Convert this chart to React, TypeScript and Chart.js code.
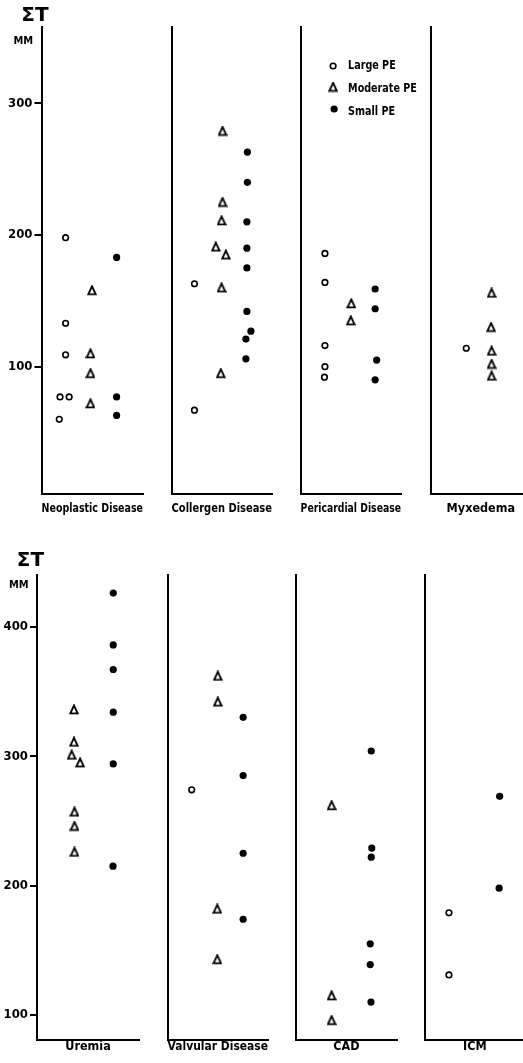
import React, { useEffect, useRef } from 'react';
import { Chart, registerables } from 'chart.js';

Chart.register(...registerables);

// ---------- DATA ----------
const topCategories = ['Neoplastic Disease', 'Collergen Disease', 'Pericardial Disease', 'Myxedema'];
const bottomCategories = ['Uremia', 'Valvular Disease', 'CAD', 'ICM'];
const topTicks = [100, 200, 300];
const bottomTicks = [100, 200, 300, 400];
const topRange = [3.3, 358];
const bottomRange = [80.7, 440];
const legendLabels = ['Large PE', 'Moderate PE', 'Small PE'];
const axisUnitTop = 'ΣT';
const axisUnitBottom = 'MM';

// Neoplastic Disease
const neoLargeY = [198, 133, 109, 77, 77, 60];
const neoLargeX = [0.95, 0.95, 0.95, 0.73, 1.09, 0.7];
const neoModY = [158, 110, 95, 72];
const neoModX = [1.99, 1.93, 1.93, 1.93];
const neoSmallY = [183, 77, 63];
const neoSmallX = [2.96, 2.96, 2.96];

// Collergen Disease
const colLargeY = [163, 67];
const colLargeX = [0.91, 0.91];
const colModY = [279, 225, 211, 191, 185, 160, 95];
const colModX = [2.03, 2.03, 1.99, 1.76, 2.16, 1.99, 1.96];
const colSmallY = [263, 240, 210, 190, 175, 142, 127, 121, 106];
const colSmallX = [3.02, 3.02, 3.0, 3.0, 3.0, 3.0, 3.16, 2.96, 2.96];

// Pericardial Disease
const perLargeY = [186, 164, 116, 100, 92];
const perLargeX = [0.97, 0.97, 0.97, 0.97, 0.95];
const perModY = [148, 135];
const perModX = [2.02, 2.0];
const perSmallY = [159, 144, 105, 90];
const perSmallX = [2.97, 2.97, 3.03, 2.97];

// Myxedema
const myxLargeY = [114];
const myxLargeX = [1.42];
const myxModY = [156, 130, 112, 102, 93];
const myxModX = [2.43, 2.41, 2.43, 2.43, 2.43];
const myxSmallY: number[] = [];
const myxSmallX: number[] = [];

// Uremia
const ureLargeY: number[] = [];
const ureLargeX: number[] = [];
const ureModY = [336, 311, 301, 295, 257, 246, 226];
const ureModX = [1.45, 1.45, 1.36, 1.69, 1.47, 1.47, 1.47];
const ureSmallY = [426, 386, 367, 334, 294, 215];
const ureSmallX = [2.99, 2.99, 2.99, 2.99, 2.99, 2.98];

// Valvular Disease
const valLargeY = [274];
const valLargeX = [0.96];
const valModY = [362, 342, 182, 143];
const valModX = [2.0, 2.0, 1.98, 1.98];
const valSmallY = [330, 285, 225, 174];
const valSmallX = [3.01, 3.01, 3.01, 3.01];

// CAD
const cadLargeY: number[] = [];
const cadLargeX: number[] = [];
const cadModY = [262, 115, 96];
const cadModX = [1.41, 1.41, 1.41];
const cadSmallY = [304, 229, 222, 155, 139, 110];
const cadSmallX = [2.98, 3.0, 2.98, 2.94, 2.94, 2.97];

// ICM
const icmLargeY = [179, 131];
const icmLargeX = [0.97, 0.97];
const icmModY: number[] = [];
const icmModX: number[] = [];
const icmSmallY = [269, 198];
const icmSmallX = [2.99, 2.97];

type Series = { x: number[]; y: number[] };
type PanelData = { name: string; large: Series; mod: Series; small: Series };

const topPanels: PanelData[] = [
  { name: topCategories[0], large: { x: neoLargeX, y: neoLargeY }, mod: { x: neoModX, y: neoModY }, small: { x: neoSmallX, y: neoSmallY } },
  { name: topCategories[1], large: { x: colLargeX, y: colLargeY }, mod: { x: colModX, y: colModY }, small: { x: colSmallX, y: colSmallY } },
  { name: topCategories[2], large: { x: perLargeX, y: perLargeY }, mod: { x: perModX, y: perModY }, small: { x: perSmallX, y: perSmallY } },
  { name: topCategories[3], large: { x: myxLargeX, y: myxLargeY }, mod: { x: myxModX, y: myxModY }, small: { x: myxSmallX, y: myxSmallY } },
];
const bottomPanels: PanelData[] = [
  { name: bottomCategories[0], large: { x: ureLargeX, y: ureLargeY }, mod: { x: ureModX, y: ureModY }, small: { x: ureSmallX, y: ureSmallY } },
  { name: bottomCategories[1], large: { x: valLargeX, y: valLargeY }, mod: { x: valModX, y: valModY }, small: { x: valSmallX, y: valSmallY } },
  { name: bottomCategories[2], large: { x: cadLargeX, y: cadLargeY }, mod: { x: cadModX, y: cadModY }, small: { x: cadSmallX, y: cadSmallY } },
  { name: bottomCategories[3], large: { x: icmLargeX, y: icmLargeY }, mod: { x: icmModX, y: icmModY }, small: { x: icmSmallX, y: icmSmallY } },
];

// ---------- STYLE / LAYOUT ----------
const COND = '"DejaVu Sans Condensed", "Liberation Sans Narrow", "Roboto Condensed", Roboto, sans-serif';
const PLOT_W = 102;
const PAD_R = 26;

let triCache: HTMLCanvasElement | null = null;
function triangleImage(): HTMLCanvasElement {
  if (triCache) return triCache;
  const c = document.createElement('canvas');
  c.width = 10;
  c.height = 11;
  const g = c.getContext('2d')!;
  g.strokeStyle = '#000';
  g.lineWidth = 1.9;
  g.lineJoin = 'miter';
  g.beginPath();
  g.moveTo(5, 1.4);
  g.lineTo(8.7, 9.4);
  g.lineTo(1.3, 9.4);
  g.closePath();
  g.stroke();
  triCache = c;
  return c;
}

const toPts = (s: Series) => s.y.map((v, i) => ({ x: s.x[i], y: v }));

type PanelProps = {
  data: PanelData;
  left: number;
  top: number;
  height: number;
  yW: number;
  padTop: number;
  xH: number;
  range: number[];
  ticks: number[];
  first: boolean;
  legend?: boolean;
  unitOffsets?: number[];
};

function Panel(p: PanelProps) {
  const ref = useRef<HTMLCanvasElement | null>(null);
  const width = p.yW + PLOT_W + PAD_R;
  useEffect(() => {
    const tri = triangleImage();
    const plugins: any[] = [];
    if (p.first && p.unitOffsets) {
      const [dySig, dyMM] = p.unitOffsets;
      plugins.push({
        id: 'units',
        afterDraw(chart: any) {
          const { ctx, chartArea } = chart;
          ctx.save();
          ctx.fillStyle = '#000';
          ctx.textAlign = 'center';
          ctx.textBaseline = 'middle';
          ctx.font = 'bold 20px "DejaVu Sans", sans-serif';
          ctx.fillText(axisUnitTop, chartArea.left - 6.5, chartArea.top + dySig);
          ctx.font = 'bold 11px ' + COND;
          ctx.fillText(axisUnitBottom, chartArea.left - 18.2, chartArea.top + dyMM);
          ctx.restore();
        },
      });
    }
    if (p.legend) {
      plugins.push({
        id: 'peLegend',
        afterDraw(chart: any) {
          const { ctx, chartArea } = chart;
          const mx = chartArea.left + 32.5;
          const tx = chartArea.left + 47.5;
          const rows = [39, 60, 82];
          const trows = [38.5, 61.5, 85];
          ctx.save();
          ctx.strokeStyle = '#000';
          ctx.fillStyle = '#fff';
          ctx.lineWidth = 1.6;
          ctx.beginPath();
          ctx.arc(mx, chartArea.top + rows[0], 2.8, 0, Math.PI * 2);
          ctx.fill();
          ctx.stroke();
          ctx.drawImage(tri, mx - tri.width / 2, chartArea.top + rows[1] - tri.height / 2);
          ctx.fillStyle = '#000';
          ctx.beginPath();
          ctx.arc(mx + 1, chartArea.top + rows[2], 3.6, 0, Math.PI * 2);
          ctx.fill();
          ctx.font = 'bold 13px ' + COND;
          ctx.textAlign = 'left';
          ctx.textBaseline = 'middle';
          legendLabels.forEach((t, i) => {
            ctx.save();
            ctx.translate(tx, chartArea.top + trows[i]);
            ctx.scale(0.82, 1);
            ctx.fillText(t, 0, 0);
            ctx.restore();
          });
          ctx.restore();
        },
      });
    }
    const chart = new Chart(ref.current!, {
      type: 'scatter',
      data: {
        datasets: [
          {
            label: legendLabels[0],
            data: toPts(p.data.large),
            pointStyle: 'circle',
            pointRadius: 2.8,
            pointBorderWidth: 1.6,
            pointBorderColor: '#000',
            pointBackgroundColor: '#fff',
            showLine: false,
          },
          {
            label: legendLabels[1],
            data: toPts(p.data.mod),
            pointStyle: tri as any,
            pointRadius: 5,
            pointBorderWidth: 0,
            pointBorderColor: '#000',
            pointBackgroundColor: '#000',
            showLine: false,
          },
          {
            label: legendLabels[2],
            data: toPts(p.data.small),
            pointStyle: 'circle',
            pointRadius: 3.6,
            pointBorderWidth: 0,
            pointBorderColor: '#000',
            pointBackgroundColor: '#000',
            showLine: false,
          },
        ],
      },
      options: {
        responsive: false,
        animation: false,
        events: [],
        layout: { padding: { top: p.padTop, right: PAD_R, left: 0, bottom: 0 } },
        plugins: { legend: { display: false }, tooltip: { enabled: false }, title: { display: false } },
        scales: {
          x: {
            type: 'linear',
            min: 0,
            max: 4,
            afterFit: (s: any) => {
              s.height = p.xH;
            },
            ticks: { display: false },
            grid: { display: false },
            border: { display: true, color: '#000', width: 2 },
            title: {
              display: true,
              text: p.data.name,
              color: '#000',
              font: { family: COND, size: 12.5, weight: 'bold' },
              padding: { top: 0, bottom: 9 },
            },
          },
          y: {
            type: 'linear',
            min: p.range[0],
            max: p.range[1],
            afterBuildTicks: (s: any) => {
              s.ticks = p.ticks.map((v) => ({ value: v }));
            },
            afterFit: (s: any) => {
              s.width = p.yW;
            },
            border: { display: true, color: '#000', width: 2 },
            grid: {
              display: p.first,
              drawOnChartArea: false,
              drawTicks: true,
              tickLength: 7,
              color: '#000',
              lineWidth: 2,
            },
            ticks: {
              display: p.first,
              padding: 2,
              color: '#000',
              font: { family: COND, size: 13, weight: 'bold' },
            },
          },
        },
      },
      plugins,
    } as any);
    return () => chart.destroy();
  }, []);
  return (
    <div style={{ position: 'absolute', left: p.left - p.yW, top: p.top, width, height: p.height }}>
      <canvas ref={ref} width={width} height={p.height} style={{ display: 'block' }} />
    </div>
  );
}

const topLefts = [41.5, 170, 298.5, 429];
const bottomLefts = [37, 165.5, 295, 423];

export default function App() {
  useEffect(() => {
    document.body.style.margin = '0';
    document.body.style.overflow = 'hidden';
    document.body.style.background = '#fff';
  }, []);
  return (
    <div style={{ position: 'relative', width: 523, height: 1063, overflow: 'hidden', background: '#fff' }}>
      {topPanels.map((d, i) => (
        <Panel
          key={'t' + i}
          data={d}
          left={topLefts[i]}
          top={0}
          height={525}
          yW={i === 0 ? topLefts[0] : 4}
          padTop={27}
          xH={31}
          range={topRange}
          ticks={topTicks}
          first={i === 0}
          legend={i === 2}
          unitOffsets={[-11.5, 14]}
        />
      ))}
      {bottomPanels.map((d, i) => (
        <Panel
          key={'b' + i}
          data={d}
          left={bottomLefts[i]}
          top={525}
          height={538}
          yW={i === 0 ? bottomLefts[0] : 4}
          padTop={50}
          xH={23}
          range={bottomRange}
          ticks={bottomTicks}
          first={i === 0}
          unitOffsets={[-14.5, 10]}
        />
      ))}
    </div>
  );
}
